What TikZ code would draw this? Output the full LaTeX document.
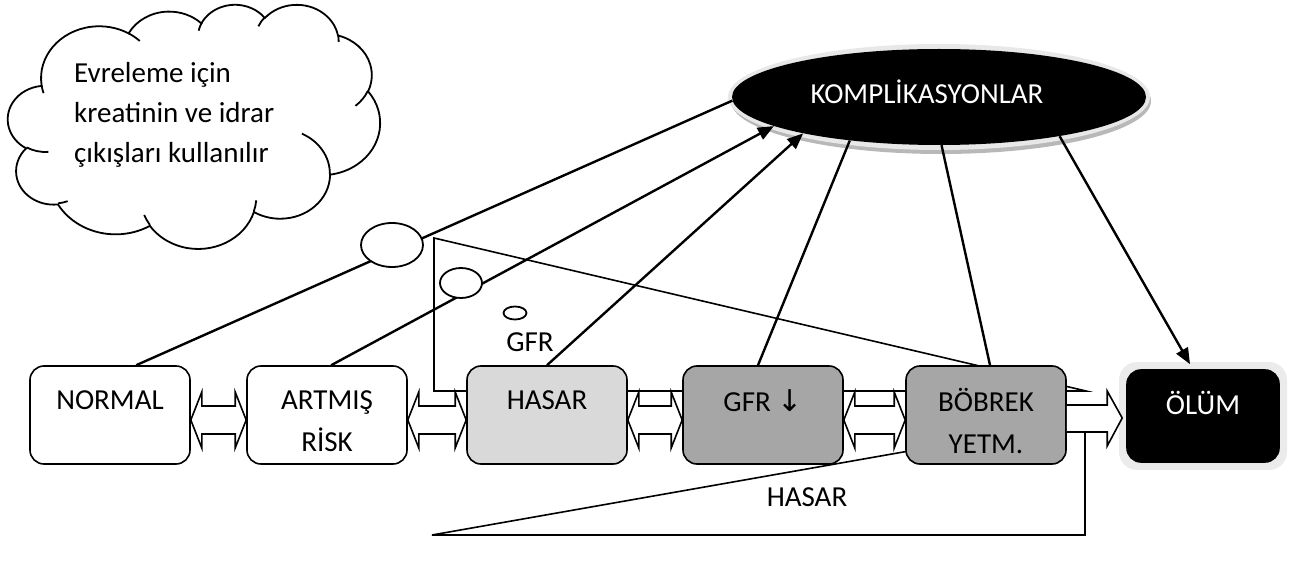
\documentclass[tikz,border=0pt]{standalone}
\usepackage{fontspec}
\setmainfont{Carlito}
\newfontfamily\djv{DejaVu Sans}
\usetikzlibrary{shapes.geometric,arrows.meta,calc}
\def\ox{8}\def\oy{4}\def\cx{0.8611}\def\cy{0.565}
\newcommand{\dblarr}[2]{%
  \draw[blockarrow] let \p1=(#1.east), \p2=(#2.west) in
   (\x1,-420) -- (\x1+11,-392) -- (\x1+11,-406) -- (\x2-11,-406) -- (\x2-11,-392) -- (\x2,-420)
   -- (\x2-11,-448) -- (\x2-11,-434) -- (\x1+11,-434) -- (\x1+11,-448) -- cycle;}
\begin{document}
\begin{tikzpicture}[x=1pt,y=1pt,
  stagebox/.style={draw=black, line width=1.6pt, rounded corners=14pt, minimum width=160pt, minimum height=98pt, inner sep=0pt},
  lbl/.style={font=\fontsize{29}{42}\selectfont, align=center, inner sep=0pt},
  conn/.style={line width=2.4pt},
  connarr/.style={line width=2.4pt, -{Triangle[length=16pt,width=13pt]}},
  blockarrow/.style={draw=black, fill=white, line width=1.6pt, line join=miter},
  shapeline/.style={line width=1.6pt},
  bubble/.style={ellipse, draw=black, fill=white, line width=1.8pt, inner sep=0pt},
  oo/.style n args={4}{insert path={arc[start angle={-atan2(#1*sin(#3),#2*cos(#3))}, delta angle={-mod(atan2(#1*sin(#3+#4),#2*cos(#3+#4))-atan2(#1*sin(#3),#2*cos(#3))+720,360)}, x radius={#1*\cx}, y radius={#2*\cy}]}}
]
\useasboundingbox (0,0) rectangle (1291,-569);

% triangles behind
\draw[shapeline] (434,-238) -- (1086,-391) -- (434,-391) -- cycle;
\draw[shapeline] (432,-535) -- (1085,-535) -- (1085,-420) -- cycle;
\node[lbl] (gfrlbl) at (530,-342) {GFR};
\node[lbl] (hasarlbl) at (807,-497) {HASAR};

% complications ellipse
\fill[black!28] (941,-101) ellipse[x radius=210, y radius=53];
\fill[black!9] (939,-97) ellipse[x radius=211, y radius=53];
\node[ellipse, fill=black, minimum width=414pt, minimum height=96pt, inner sep=0pt] (kompl) at (939,-97) {};
\node[lbl, text=white] (komplT) at (927,-92) {KOMPLİKASYONLAR};

% stage boxes
\node[stagebox, fill=white] (normal) at (110,-415) {};
\node[stagebox, fill=white] (artmis) at (327,-415) {};
\node[stagebox, fill=black!15] (hasar) at (547,-415) {};
\node[stagebox, fill=black!35] (gfr) at (763,-415) {};
\node[stagebox, fill=black!35] (bobrek) at (986,-415) {};
\fill[black!8, rounded corners=18pt] (1119,-362) rectangle (1287,-470);
\node[stagebox, fill=black, minimum width=152pt, minimum height=92pt] (olum) at (1203,-416) {};

\node[lbl] (normalT) at (110,-400) {NORMAL};
\node[lbl] (artmisT) at (327,-421) {ARTMIŞ\\RİSK};
\node[lbl] (hasarT) at (547,-400) {HASAR};
\node[lbl] (gfrT) at (763,-401) {GFR {\djv\fontsize{30}{30}\selectfont ↓}};
\node[lbl] (bobrekT) at (986,-421) {BÖBREK\\YETM.};
\node[lbl, text=white] (olumT) at (1203,-403) {ÖLÜM};

% block arrows
\dblarr{normal}{artmis}
\dblarr{artmis}{hasar}
\dblarr{hasar}{gfr}
\dblarr{gfr}{bobrek}
\draw[blockarrow] let \p1=(bobrek.east), \p2=(olum.west) in
  (\x1,-405) -- (\x2-19,-405) -- (\x2-19,-391) -- (\x2-4,-418) -- (\x2-19,-446) -- (\x2-19,-432) -- (\x1,-432);

% connectors
\draw[conn] ($(normal.north west)+(107,0)$) -- (kompl.181.7);
\draw[connarr] ($(artmis.north west)+(85,0)$) -- (kompl.190.4);
\draw[connarr] (hasar.north) -- (kompl.195.8);
\draw[conn] ($(gfr.north)+(-5,0)$) -- (kompl.206);
\draw[conn] ($(bobrek.north)+(4,0)$) -- (kompl.273.8);
\draw[connarr] (kompl.342.7) -- ($(olum.north)+(-13,5)$);

% thought bubbles
\node[bubble, minimum width=62pt, minimum height=44pt] (b1) at (392,-245) {};
\node[bubble, minimum width=42pt, minimum height=30pt] (b2) at (461,-283) {};
\node[bubble, minimum width=23pt, minimum height=13pt] (b3) at (515,-313) {};

% cloud
\draw[line width=1.8pt, fill=white] ({\ox+39.00*\cx},{-(\oy+143.70*\cy)})
 [oo={67.53}{91.90}{-190.48748}{123.78053}]
 [oo={53.33}{72.67}{-144.10238}{89.94523}]
 [oo={43.65}{59.45}{-145.80792}{99.72302}]
 [oo={48.57}{65.95}{-130.98607}{117.24173}]
 [oo={53.33}{72.73}{-78.70888}{109.02692}]
 [oo={67.75}{92.20}{-46.26725}{130.26900}]
 [oo={57.85}{78.67}{0.62502}{114.03333}]
 [oo={67.52}{92.15}{22.45160}{115.17255}]
 [oo={77.20}{105.43}{66.24263}{75.71102}]
 [oo={43.60}{59.18}{-274.94208}{146.73557}]
 [oo={43.45}{59.45}{-246.82850}{152.51885}]
 -- cycle;
\draw[line width=1.8pt]
 ({\ox+46.93*\cx},{-(\oy+261.77*\cy)}) [oo={43.45}{59.45}{86.742}{26.4295}]
 ({\ox+69.28*\cx},{-(\oy+348.99*\cy)}) [oo={43.60}{59.18}{73.6105}{11.4475}]
 ({\ox+164.78*\cx},{-(\oy+390.90*\cy)}) [oo={67.52}{92.15}{137.6241}{14.0811}]
 ({\ox+288.27*\cx},{-(\oy+347.51*\cy)}) [oo={67.52}{92.15}{6.4533}{15.9984}]
 ({\ox+341.29*\cx},{-(\oy+229.54*\cy)}) [oo={57.85}{78.67}{-70.2924}{70.9174}]
 ({\ox+417.98*\cx},{-(\oy+153.54*\cy)}) [oo={53.33}{72.73}{30.3180}{27.7515}]
 ({\ox+383.24*\cx},{-(\oy+54.26*\cy)}) [oo={48.57}{65.95}{-13.7443}{14.8589}]
 ({\ox+290.78*\cx},{-(\oy+39.52*\cy)}) [oo={48.57}{65.95}{-149.1815}{18.1954}]
 ({\ox+221.41*\cx},{-(\oy+47.20*\cy)}) [oo={43.65}{59.45}{-163.4943}{17.6864}]
 ({\ox+140.00*\cx},{-(\oy+51.92*\cy)}) [oo={67.53}{91.90}{-66.7069}{12.3194}]
 ({\ox+41.27*\cx},{-(\oy+157.89*\cy)}) [oo={67.53}{91.90}{157.6544}{11.8582}];
\node[font=\fontsize{29}{40}\selectfont, align=left, anchor=west, inner sep=0pt] (cloudT) at (74,-115) {Evreleme için\\kreatinin ve idrar\\çıkışları kullanılır};
\end{tikzpicture}
\end{document}
